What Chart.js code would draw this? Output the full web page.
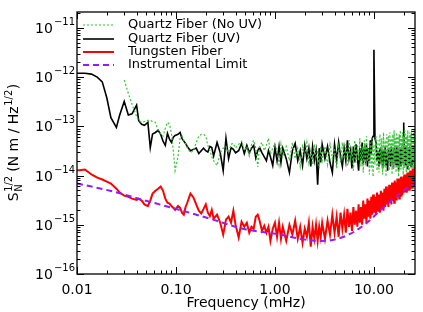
<!DOCTYPE html>
<html>
<head>
<meta charset="utf-8">
<script src="https://cdn.jsdelivr.net/npm/chart.js@4/dist/chart.umd.min.js"></script>
<style>
  html, body { margin: 0; padding: 0; background: #fff; }
  canvas { display: block; }
</style>
</head>
<body>
<canvas id="chart" width="423" height="312"></canvas>
<script>
// frequency grid, mHz
const freq = [
  0.010, 0.012, 0.014, 0.016, 0.018, 0.020, 0.022, 0.025, 0.027, 0.030,
  0.033, 0.036, 0.040, 0.042, 0.045, 0.048, 0.052, 0.055, 0.058, 0.062,
  0.066, 0.070, 0.074, 0.078, 0.082, 0.086, 0.090, 0.094, 0.098,
  0.105, 0.11, 0.115, 0.12, 0.125, 0.13, 0.14, 0.15, 0.16, 0.17, 0.18, 0.19,
  0.20, 0.21, 0.22, 0.23, 0.24, 0.26, 0.28, 0.30, 0.32, 0.34, 0.36, 0.38, 0.40,
  0.43, 0.46, 0.49, 0.52, 0.55, 0.58, 0.61, 0.64, 0.67, 0.70, 0.74, 0.78, 0.82, 0.86, 0.90, 0.95,
  1.0, 1.05, 1.1, 1.15, 1.2, 1.3, 1.4, 1.5, 1.6, 1.7, 1.8, 1.9, 2.0,
  2.1, 2.2, 2.3, 2.4, 2.5, 2.6, 2.7, 2.8, 2.9, 3.0,
  3.2, 3.4, 3.6, 3.8, 4.0, 4.2, 4.4, 4.6, 4.8, 5.0,
  5.2, 5.4, 5.6, 5.8, 6.0, 6.2, 6.4, 6.6, 6.8, 7.0,
  7.2, 7.4, 7.6, 7.8, 8.0, 8.2, 8.4, 8.6, 8.8, 9.0,
  9.2, 9.4, 9.6, 9.8, 10.0,
  10.25, 10.5, 10.75, 11.0, 11.25, 11.5, 11.75, 12.0,
  12.25, 12.5, 12.75, 13.0, 13.25, 13.5, 13.75, 14.0,
  14.25, 14.5, 14.75, 15.0, 15.25, 15.5, 15.75, 16.0,
  16.25, 16.5, 16.75, 17.0, 17.25, 17.5, 17.75, 18.0,
  18.25, 18.5, 18.75, 19.0, 19.25, 19.5, 19.75, 20.0,
  20.25, 20.5, 20.75, 21.0, 21.25, 21.5, 21.75, 22.0,
  22.25, 22.5, 22.75, 23.0, 23.25, 23.5, 23.75, 24.0,
  24.25, 24.5, 24.75, 25.0, 25.25, 25.5, 25.75, 26.0
];

// Quartz fiber, no UV (green dotted)
const quartzNoUV = [
  null, null, null, null, null, null, null, null, null, 8.7e-13,
  4.7e-13, 2.8e-13, 1.6e-13, 1.32e-13, 1.2e-13, 1.25e-13, 1.32e-13, 1.32e-13, 1.25e-13, 1.2e-13,
  8.3e-14, 6.9e-14, 6.3e-14, 9.1e-14, 1.2e-13, 1.1e-13, 7.2e-14, 3.2e-14, 1.26e-14,
  2.5e-14, 5.7e-14, 6.3e-14, 5.2e-14, 4.5e-14, 3.7e-14, 2.9e-14, 3.2e-14, 4.7e-14, 6.3e-14, 6.9e-14, 6.9e-14,
  6.3e-14, 4.1e-14, 3.2e-14, 2.4e-14, 2.0e-14, 1.6e-14, 2.9e-14, 3.6e-14, 3.9e-14, 2.9e-14, 4.3e-14, 4.5e-14, 3.6e-14,
  4.3e-14, 5.0e-14, 3.2e-14, 3.9e-14, 2.5e-14, 4.3e-14, 5.2e-14, 3.6e-14, 1.5e-14, 3.9e-14, 4.7e-14, 3.2e-14, 4.1e-14, 5.7e-14, 2.7e-14, 3.6e-14,
  4.5e-14, 3.2e-14, 1.67e-14, 4.3e-14, 2.4e-14, 3.9e-14, 2.0e-14, 4.7e-14, 2.2e-14, 3.6e-14, 1.53e-14, 3.9e-14, 2.4e-14,
  4.7e-14, 1.84e-14, 3.2e-14, 1.67e-14, 4.3e-14, 2.2e-14, 3.2e-14, 1.39e-14, 3.9e-14, 2.0e-14,
  3.9e-14, 1.67e-14, 4.3e-14, 2.2e-14, 3.6e-14, 1.39e-14, 3.9e-14, 1.84e-14, 4.7e-14, 2.2e-14,
  4.3e-14, 1.53e-14, 5.2e-14, 2.0e-14, 3.9e-14, 1.26e-14, 5.2e-14, 1.84e-14, 4.3e-14, 2.0e-14,
  5.7e-14, 1.53e-14, 3.9e-14, 1.15e-14, 5.2e-14, 1.67e-14, 6.3e-14, 2.0e-14, 3.6e-14, 1.05e-14,
  4.7e-14, 1.39e-14, 5.7e-14, 9.5e-15, 4.3e-14,
  1.67e-14, 6.3e-14, 1.26e-14, 5.2e-14, 1.15e-14, 6.9e-14, 1.84e-14, 5.7e-14,
  1.05e-14, 7.5e-14, 1.53e-14, 5.2e-14, 9.5e-15, 6.9e-14, 2.0e-14, 6.3e-14,
  1.26e-14, 7.5e-14, 1.67e-14, 5.7e-14, 1.05e-14, 6.9e-14, 1.39e-14, 8.3e-14,
  1.84e-14, 5.7e-14, 1.15e-14, 7.5e-14, 1.53e-14, 6.3e-14, 9.5e-15, 6.9e-14,
  2.0e-14, 8.3e-14, 1.26e-14, 5.7e-14, 1.67e-14, 7.5e-14, 1.05e-14, 6.3e-14,
  1.39e-14, 8.3e-14, 1.84e-14, 6.9e-14, 1.15e-14, 6.3e-14, 1.53e-14, 8.3e-14,
  1.26e-14, 5.7e-14, 9.5e-15, 7.5e-14, 1.67e-14, 6.9e-14, 1.39e-14, 8.3e-14,
  2.0e-14, 6.3e-14, 1.15e-14, 7.5e-14, 1.53e-14, 8.3e-14, 1.26e-14, 6.9e-14
];

// Quartz fiber, UV (black)
const quartzUV = [
  1.2e-12, 1.2e-12, 1.15e-12, 1.0e-12, 8.0e-13, 3.8e-13, 1.5e-13, 9.5e-14, 1.7e-13, 3.2e-13,
  1.7e-13, 1.8e-13, 2.7e-13, 1.3e-13, 1.1e-13, 1.05e-13, 1.2e-13, 3.7e-14, 7.0e-14, 7.5e-14,
  8.3e-14, 6.9e-14, 5.0e-14, 4.1e-14, 7.2e-14, 5.5e-14, 4.7e-14, 6.0e-14, 6.5e-14,
  6.9e-14, 7.5e-14, 5.7e-14, 5.0e-14, 4.5e-14, 3.9e-14, 3.2e-14, 3.4e-14, 3.6e-14, 2.8e-14, 3.2e-14, 3.6e-14,
  3.2e-14, 3.0e-14, 3.9e-14, 3.7e-14, 2.5e-14, 4.7e-14, 2.9e-14, 1.26e-14, 5.7e-14, 2.2e-14, 3.7e-14, 3.4e-14, 2.9e-14,
  3.2e-14, 4.5e-14, 2.8e-14, 4.1e-14, 2.9e-14, 3.6e-14, 4.1e-14, 2.3e-14, 3.2e-14, 3.7e-14, 2.9e-14, 2.4e-14, 2.0e-14, 3.2e-14, 2.4e-14, 1.6e-14,
  3.7e-14, 2.0e-14, 3.9e-14, 1.84e-14, 3.6e-14, 2.2e-14, 1.15e-14, 3.2e-14, 4.5e-14, 2.0e-14, 3.2e-14, 1.6e-14, 4.1e-14,
  2.2e-14, 3.6e-14, 1.53e-14, 3.9e-14, 2.0e-14, 3.2e-14, 6.5e-15, 3.6e-14, 1.84e-14, 4.3e-14,
  2.2e-14, 3.9e-14, 1.84e-14, 1.15e-14, 4.3e-14, 2.0e-14, 4.7e-14, 2.4e-14, 1.53e-14, 3.6e-14,
  2.0e-14, 5.2e-14, 2.2e-14, 3.2e-14, 1.39e-14, 3.9e-14, 1.84e-14, 4.3e-14, 2.4e-14, 1.26e-14,
  3.6e-14, 2.0e-14, 4.7e-14, 1.67e-14, 3.2e-14, 2.2e-14, 4.3e-14, 1.53e-14, 3.6e-14, 2.0e-14,
  5.2e-14, 2.7e-14, 5.7e-14, 6.3e-14, 3.6e-12,
  5.7e-14, 4.7e-14, 2.0e-14, 3.2e-14, 1.53e-14, 3.6e-14, 2.2e-14, 2.9e-14,
  1.39e-14, 3.2e-14, 1.84e-14, 3.9e-14, 1.67e-14, 2.9e-14, 1.26e-14, 3.6e-14,
  2.0e-14, 3.2e-14, 1.53e-14, 3.9e-14, 2.2e-14, 2.9e-14, 1.39e-14, 3.6e-14,
  1.84e-14, 3.2e-14, 1.67e-14, 3.9e-14, 2.0e-14, 2.9e-14, 1.26e-14, 3.6e-14,
  2.2e-14, 3.2e-14, 1.53e-14, 3.9e-14, 2.0e-14, 3.6e-14, 1.84e-14, 1.2e-13,
  2.4e-14, 3.2e-14, 1.67e-14, 3.9e-14, 2.0e-14, 3.2e-14, 1.39e-14, 3.6e-14,
  2.2e-14, 2.9e-14, 1.67e-14, 3.9e-14, 2.0e-14, 3.2e-14, 1.53e-14, 3.6e-14,
  2.2e-14, 2.9e-14, 1.67e-14, 3.9e-14, 2.2e-14, 3.2e-14, 1.84e-14, 3.6e-14
];

// Tungsten fiber (red)
const tungsten = [
  1.26e-14, 1.33e-14, 1.05e-14, 9.1e-15, 8.3e-15, 7.5e-15, 6.9e-15, 5.4e-15, 4.5e-15, 3.9e-15,
  3.7e-15, 3.4e-15, 3.2e-15, 3.4e-15, 3.1e-15, 2.6e-15, 2.4e-15, 3.1e-15, 4.3e-15, 4.9e-15,
  5.4e-15, 6.0e-15, 4.9e-15, 3.4e-15, 2.8e-15, 2.7e-15, 2.4e-15, 2.2e-15, 2.0e-15,
  2.4e-15, 2.2e-15, 1.76e-15, 1.6e-15, 2.3e-15, 2.8e-15, 4.3e-15, 3.6e-15, 2.6e-15, 1.93e-15, 1.7e-15, 2.1e-15,
  2.6e-15, 1.76e-15, 1.5e-15, 2.0e-15, 1.33e-15, 1.6e-15, 1.1e-15, 6.3e-16, 1.27e-15, 1.46e-15, 1.1e-15, 1.93e-15, 1.0e-15,
  5.5e-16, 1.15e-15, 9.1e-16, 1.1e-15, 6.9e-16, 9.1e-16, 8.3e-16, 1.46e-15, 1.6e-15, 1.21e-15, 7.5e-16, 9.5e-16, 6.9e-16, 9.1e-16, 4.7e-16, 8.3e-16,
  1.1e-15, 5.7e-16, 1.1e-15, 5.2e-16, 9.1e-16, 4.7e-16, 1.0e-15, 6.3e-16, 1.21e-15, 5.2e-16, 9.1e-16, 4.3e-16, 8.3e-16,
  5.7e-16, 1.1e-15, 3.6e-16, 9.1e-16, 5.2e-16, 1.0e-15, 4.7e-16, 9.1e-16, 5.7e-16, 1.1e-15,
  5.2e-16, 1.21e-15, 6.3e-16, 1.6e-15, 6.9e-16, 1.46e-15, 5.7e-16, 1.76e-15, 8.3e-16, 1.6e-15,
  6.9e-16, 2.1e-15, 9.1e-16, 1.76e-15, 7.5e-16, 2.3e-15, 1.0e-15, 1.93e-15, 9.1e-16, 2.6e-15,
  1.1e-15, 2.3e-15, 1.0e-15, 3.1e-15, 1.33e-15, 2.6e-15, 1.1e-15, 3.4e-15, 1.46e-15, 3.1e-15,
  1.33e-15, 3.7e-15, 1.6e-15, 4.1e-15, 1.76e-15,
  3.7e-15, 1.6e-15, 4.5e-15, 1.93e-15, 4.1e-15, 1.76e-15, 4.9e-15, 2.1e-15,
  4.5e-15, 1.93e-15, 5.4e-15, 2.3e-15, 6.0e-15, 2.6e-15, 5.4e-15, 2.3e-15,
  6.5e-15, 2.8e-15, 6.0e-15, 2.6e-15, 7.2e-15, 3.1e-15, 6.5e-15, 2.8e-15,
  7.9e-15, 3.4e-15, 7.2e-15, 3.1e-15, 8.7e-15, 3.7e-15, 7.9e-15, 3.4e-15,
  8.7e-15, 4.1e-15, 9.5e-15, 3.7e-15, 8.7e-15, 4.1e-15, 9.5e-15, 4.5e-15,
  1.05e-14, 4.5e-15, 9.5e-15, 4.9e-15, 1.05e-14, 4.5e-15, 1.15e-14, 4.9e-15,
  1.05e-14, 5.4e-15, 1.15e-14, 4.9e-15, 1.26e-14, 5.4e-15, 1.15e-14, 6.0e-15,
  1.26e-14, 5.4e-15, 1.39e-14, 6.0e-15, 1.26e-14, 6.5e-15, 1.53e-14, 6.5e-15
];

// Instrumental limit (purple dashed)
const limitFreq = [0.01, 0.0216, 0.0464, 0.1, 0.22, 0.475, 1.05, 1.79, 2.85, 3.85, 5.73, 8.5, 12.3, 18.3, 26];
const limitVals = [6.9e-15, 4.9e-15, 3.2e-15, 2.1e-15, 1.33e-15, 8.3e-16, 6.5e-16, 5.2e-16, 4.7e-16, 4.9e-16, 6.5e-16, 1.1e-15, 2.2e-15, 4.3e-15, 7.2e-15];

const xTicks = [0.01, 0.1, 1, 10];
const yTicks = [1e-16, 1e-15, 1e-14, 1e-13, 1e-12, 1e-11];

const FONT = "'DejaVu Sans', sans-serif";

function pairs(xs, ys) {
  return xs.map((f, i) => ({ x: f, y: ys[i] }));
}

// box with inward ticks on all four sides
const axisFrame = {
  id: 'axisFrame',
  afterDraw(chart) {
    const { ctx, chartArea: a, scales: { x, y } } = chart;
    ctx.save();
    ctx.strokeStyle = '#000';
    ctx.lineWidth = 1.3;
    ctx.strokeRect(a.left, a.top, a.right - a.left, a.bottom - a.top);
    ctx.lineWidth = 1;
    ctx.beginPath();
    for (let d = -2; d <= 1; d++) {
      for (let m = 1; m <= 9; m++) {
        const v = m * Math.pow(10, d);
        if (v > x.max) break;
        const px = Math.round(x.getPixelForValue(v)) + 0.5;
        const len = m === 1 ? 7 : 3.5;
        ctx.moveTo(px, a.bottom); ctx.lineTo(px, a.bottom - len);
        ctx.moveTo(px, a.top); ctx.lineTo(px, a.top + len);
      }
    }
    for (let d = -16; d <= -11; d++) {
      for (let m = 1; m <= 9; m++) {
        const v = m * Math.pow(10, d);
        if (v > y.max) break;
        const py = Math.round(y.getPixelForValue(v)) + 0.5;
        const len = m === 1 ? 7 : 3.5;
        ctx.moveTo(a.left, py); ctx.lineTo(a.left + len, py);
        ctx.moveTo(a.right, py); ctx.lineTo(a.right - len, py);
      }
    }
    ctx.stroke();
    ctx.restore();
  }
};

// y tick labels written as 10 with a raised exponent
const powerLabels = {
  id: 'powerLabels',
  afterDraw(chart) {
    const { ctx, scales: { y } } = chart;
    const right = chart.chartArea.left - 2;
    ctx.save();
    ctx.fillStyle = '#000';
    ctx.textBaseline = 'alphabetic';
    y.ticks.forEach(t => {
      const py = y.getPixelForValue(t.value);
      const exp = '\u2212' + String(-Math.round(Math.log10(t.value)));
      ctx.font = '10px ' + FONT;
      const wE = ctx.measureText(exp).width;
      ctx.fillText(exp, right - wE, py - 3);
      ctx.font = '14px ' + FONT;
      const w10 = ctx.measureText('10').width;
      ctx.fillText('10', right - wE - w10 - 1, py + 5);
    });
    ctx.restore();
  }
};

// legend in the top-left corner of the plot
const insideLegend = {
  id: 'insideLegend',
  afterDraw(chart) {
    const { ctx } = chart;
    const rows = [25, 39, 52, 65];
    ctx.save();
    ctx.font = '13px ' + FONT;
    ctx.textBaseline = 'middle';
    chart.data.datasets.forEach((ds, i) => {
      const yy = rows[i];
      ctx.strokeStyle = ds.borderColor;
      ctx.lineWidth = ds.borderWidth;
      ctx.setLineDash(ds.borderDash || []);
      ctx.beginPath();
      ctx.moveTo(83, yy);
      ctx.lineTo(114, yy);
      ctx.stroke();
      ctx.setLineDash([]);
      ctx.fillStyle = '#000';
      ctx.fillText(ds.label, 128, yy);
    });
    ctx.restore();
  }
};

// rotated y title with sub/superscripts
const yTitle = {
  id: 'yTitle',
  afterDraw(chart) {
    const { ctx, chartArea: a } = chart;
    const big = '14px ' + FONT, small = '10px ' + FONT;
    ctx.save();
    ctx.font = big;
    const wS = ctx.measureText('S').width;
    const wMid = ctx.measureText(' (N m / Hz').width;
    const wEnd = ctx.measureText(')').width;
    ctx.font = small;
    const wHalf = ctx.measureText('1/2').width;
    const total = wS + wHalf + wMid + wHalf + wEnd;
    ctx.translate(13, (a.top + a.bottom) / 2);
    ctx.rotate(-Math.PI / 2);
    ctx.fillStyle = '#000';
    ctx.textBaseline = 'alphabetic';
    let cx = -total / 2;
    ctx.font = big;
    ctx.fillText('S', cx, 5);
    cx += wS;
    ctx.font = small;
    ctx.fillText('1/2', cx + 0.5, -1);
    ctx.fillText('N', cx + 0.5, 9);
    cx += wHalf;
    ctx.font = big;
    ctx.fillText(' (N m / Hz', cx, 5);
    cx += wMid;
    ctx.font = small;
    ctx.fillText('1/2', cx + 0.5, -1);
    cx += wHalf;
    ctx.font = big;
    ctx.fillText(')', cx + 1, 5);
    ctx.restore();
  }
};

new Chart(document.getElementById('chart'), {
  type: 'line',
  data: {
    datasets: [
      {
        label: 'Quartz Fiber (No UV)',
        data: pairs(freq, quartzNoUV),
        borderColor: 'rgb(50,200,50)',
        borderWidth: 1.2,
        borderDash: [2, 2],
        order: 2
      },
      {
        label: 'Quartz Fiber (UV)',
        data: pairs(freq, quartzUV),
        borderColor: '#000000',
        borderWidth: 1.6,
        order: 3
      },
      {
        label: 'Tungsten Fiber',
        data: pairs(freq, tungsten),
        borderColor: '#ff0000',
        borderWidth: 2,
        order: 1
      },
      {
        label: 'Instrumental Limit',
        data: pairs(limitFreq, limitVals),
        borderColor: 'rgb(140,30,255)',
        borderWidth: 2,
        borderDash: [6, 4],
        cubicInterpolationMode: 'monotone',
        order: 0
      }
    ]
  },
  options: {
    responsive: false,
    devicePixelRatio: 1,
    animation: false,
    events: [],
    layout: { padding: { left: 0, right: 8, top: 12, bottom: 0 } },
    elements: {
      point: { radius: 0 },
      line: { tension: 0, fill: false }
    },
    plugins: {
      legend: { display: false },
      tooltip: { enabled: false }
    },
    scales: {
      x: {
        type: 'logarithmic',
        min: 0.01,
        max: 26,
        grid: { display: false, drawTicks: false },
        border: { display: false },
        afterBuildTicks: s => { s.ticks = xTicks.map(v => ({ value: v })); },
        afterFit: s => { s.height = 38; },
        ticks: {
          autoSkip: false,
          maxRotation: 0,
          padding: 8,
          color: '#000',
          font: { family: FONT, size: 14 },
          callback: v => Number(v).toFixed(2)
        },
        title: {
          display: true,
          text: 'Frequency (mHz)',
          color: '#000',
          font: { family: FONT, size: 14 },
          padding: { top: 0, bottom: 0 }
        }
      },
      y: {
        type: 'logarithmic',
        min: 1e-16,
        max: 2.1e-11,
        grid: { display: false, drawTicks: false },
        border: { display: false },
        afterBuildTicks: s => { s.ticks = yTicks.map(v => ({ value: v })); },
        afterFit: s => { s.width = 77; },
        ticks: { display: false }
      }
    }
  },
  plugins: [axisFrame, powerLabels, insideLegend, yTitle]
});
</script>
</body>
</html>
